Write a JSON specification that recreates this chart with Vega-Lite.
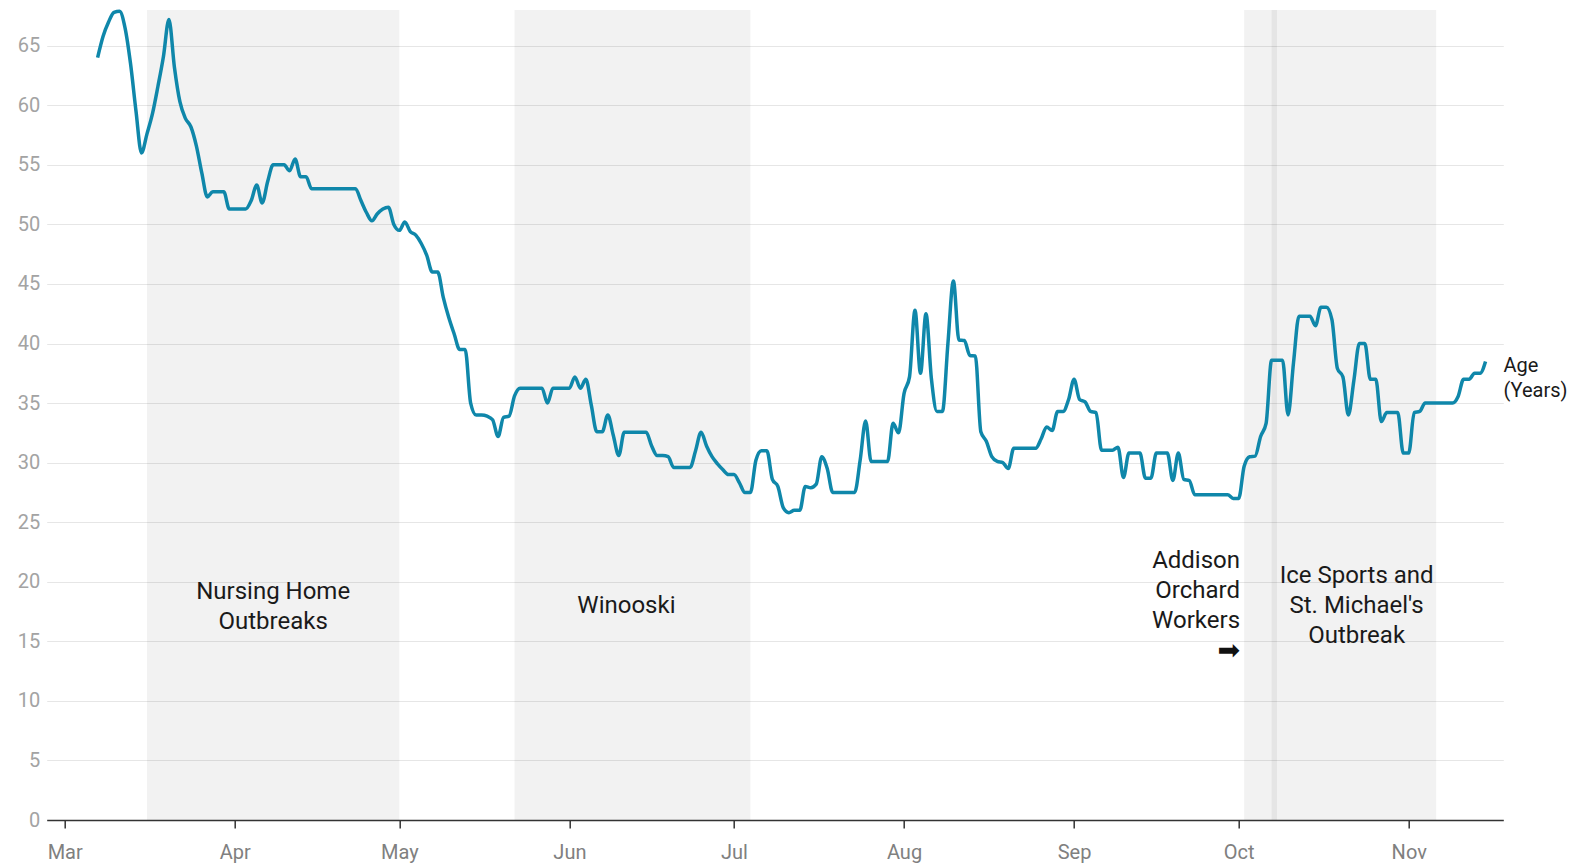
{
  "$schema": "https://vega.github.io/schema/vega-lite/v6.json",
  "width": 1456.6,
  "height": 810,
  "autosize": {"type": "none"},
  "padding": {"left": 46.7, "top": 10, "right": 80.7, "bottom": 44},
  "background": "white",
  "config": {"view": {"stroke": null}, "font": "Roboto"},
  "datasets": {
    "bands": [
      {"start": "2020-03-16", "end": "2020-05-01", "name": "Nursing Home Outbreaks"},
      {"start": "2020-05-22", "end": "2020-07-04", "name": "Winooski"},
      {"start": "2020-10-02", "end": "2020-11-06", "name": "Ice Sports and St. Michael's Outbreak"},
      {"start": "2020-10-07", "end": "2020-10-08", "name": "Addison Orchard Workers"}
    ],
    "age": [
      {"d":"2020-03-07","v":64.0},{"d":"2020-03-08","v":65.8},{"d":"2020-03-09","v":67.0},{"d":"2020-03-10","v":67.8},{"d":"2020-03-11","v":67.9},{"d":"2020-03-12","v":66.5},{"d":"2020-03-13","v":63.5},{"d":"2020-03-14","v":59.5},{"d":"2020-03-15","v":56.0},{"d":"2020-03-16","v":57.6},{"d":"2020-03-17","v":59.3},{"d":"2020-03-18","v":61.6},{"d":"2020-03-19","v":64.1},{"d":"2020-03-20","v":67.2},{"d":"2020-03-21","v":63.2},{"d":"2020-03-22","v":60.3},{"d":"2020-03-23","v":58.9},{"d":"2020-03-24","v":58.2},{"d":"2020-03-25","v":56.6},{"d":"2020-03-26","v":54.3},{"d":"2020-03-27","v":52.3},{"d":"2020-03-28","v":52.75},{"d":"2020-03-29","v":52.75},{"d":"2020-03-30","v":52.75},{"d":"2020-03-31","v":51.3},
      {"d":"2020-04-01","v":51.3},{"d":"2020-04-02","v":51.3},{"d":"2020-04-03","v":51.3},{"d":"2020-04-04","v":52.0},{"d":"2020-04-05","v":53.3},{"d":"2020-04-06","v":51.8},{"d":"2020-04-07","v":53.6},{"d":"2020-04-08","v":55.0},{"d":"2020-04-09","v":55.0},{"d":"2020-04-10","v":55.0},{"d":"2020-04-11","v":54.5},{"d":"2020-04-12","v":55.5},{"d":"2020-04-13","v":54.0},{"d":"2020-04-14","v":54.0},{"d":"2020-04-15","v":53.0},{"d":"2020-04-16","v":53.0},{"d":"2020-04-17","v":53.0},{"d":"2020-04-18","v":53.0},{"d":"2020-04-19","v":53.0},{"d":"2020-04-20","v":53.0},{"d":"2020-04-21","v":53.0},{"d":"2020-04-22","v":53.0},{"d":"2020-04-23","v":53.0},{"d":"2020-04-24","v":52.0},{"d":"2020-04-25","v":51.0},{"d":"2020-04-26","v":50.3},{"d":"2020-04-27","v":50.9},{"d":"2020-04-28","v":51.3},{"d":"2020-04-29","v":51.45},{"d":"2020-04-30","v":50.0},
      {"d":"2020-05-01","v":49.5},{"d":"2020-05-02","v":50.2},{"d":"2020-05-03","v":49.4},{"d":"2020-05-04","v":49.1},{"d":"2020-05-05","v":48.4},{"d":"2020-05-06","v":47.4},{"d":"2020-05-07","v":46.0},{"d":"2020-05-08","v":46.0},{"d":"2020-05-09","v":43.9},{"d":"2020-05-10","v":42.2},{"d":"2020-05-11","v":40.8},{"d":"2020-05-12","v":39.5},{"d":"2020-05-13","v":39.5},{"d":"2020-05-14","v":35.0},{"d":"2020-05-15","v":34.0},{"d":"2020-05-16","v":34.0},{"d":"2020-05-17","v":33.9},{"d":"2020-05-18","v":33.6},{"d":"2020-05-19","v":32.2},{"d":"2020-05-20","v":33.8},{"d":"2020-05-21","v":33.9},{"d":"2020-05-22","v":35.6},{"d":"2020-05-23","v":36.25},{"d":"2020-05-24","v":36.25},{"d":"2020-05-25","v":36.25},{"d":"2020-05-26","v":36.25},{"d":"2020-05-27","v":36.25},{"d":"2020-05-28","v":35.0},{"d":"2020-05-29","v":36.25},{"d":"2020-05-30","v":36.25},{"d":"2020-05-31","v":36.25},
      {"d":"2020-06-01","v":36.25},{"d":"2020-06-02","v":37.2},{"d":"2020-06-03","v":36.25},{"d":"2020-06-04","v":37.0},{"d":"2020-06-05","v":34.8},{"d":"2020-06-06","v":32.6},{"d":"2020-06-07","v":32.6},{"d":"2020-06-08","v":34.0},{"d":"2020-06-09","v":32.3},{"d":"2020-06-10","v":30.6},{"d":"2020-06-11","v":32.55},{"d":"2020-06-12","v":32.55},{"d":"2020-06-13","v":32.55},{"d":"2020-06-14","v":32.55},{"d":"2020-06-15","v":32.55},{"d":"2020-06-16","v":31.4},{"d":"2020-06-17","v":30.6},{"d":"2020-06-18","v":30.6},{"d":"2020-06-19","v":30.5},{"d":"2020-06-20","v":29.6},{"d":"2020-06-21","v":29.6},{"d":"2020-06-22","v":29.6},{"d":"2020-06-23","v":29.6},{"d":"2020-06-24","v":31.0},{"d":"2020-06-25","v":32.55},{"d":"2020-06-26","v":31.4},{"d":"2020-06-27","v":30.5},{"d":"2020-06-28","v":29.9},{"d":"2020-06-29","v":29.4},{"d":"2020-06-30","v":29.0},
      {"d":"2020-07-01","v":29.0},{"d":"2020-07-02","v":28.3},{"d":"2020-07-03","v":27.5},{"d":"2020-07-04","v":27.5},{"d":"2020-07-05","v":30.2},{"d":"2020-07-06","v":31.0},{"d":"2020-07-07","v":31.0},{"d":"2020-07-08","v":28.6},{"d":"2020-07-09","v":28.0},{"d":"2020-07-10","v":26.2},{"d":"2020-07-11","v":25.8},{"d":"2020-07-12","v":26.0},{"d":"2020-07-13","v":26.0},{"d":"2020-07-14","v":28.0},{"d":"2020-07-15","v":27.9},{"d":"2020-07-16","v":28.2},{"d":"2020-07-17","v":30.5},{"d":"2020-07-18","v":29.5},{"d":"2020-07-19","v":27.5},{"d":"2020-07-20","v":27.5},{"d":"2020-07-21","v":27.5},{"d":"2020-07-22","v":27.5},{"d":"2020-07-23","v":27.5},{"d":"2020-07-24","v":30.2},{"d":"2020-07-25","v":33.5},{"d":"2020-07-26","v":30.1},{"d":"2020-07-27","v":30.1},{"d":"2020-07-28","v":30.1},{"d":"2020-07-29","v":30.1},{"d":"2020-07-30","v":33.3},{"d":"2020-07-31","v":32.5},
      {"d":"2020-08-01","v":35.8},{"d":"2020-08-02","v":37.2},{"d":"2020-08-03","v":42.8},{"d":"2020-08-04","v":37.5},{"d":"2020-08-05","v":42.5},{"d":"2020-08-06","v":37.0},{"d":"2020-08-07","v":34.3},{"d":"2020-08-08","v":34.3},{"d":"2020-08-09","v":40.0},{"d":"2020-08-10","v":45.25},{"d":"2020-08-11","v":40.3},{"d":"2020-08-12","v":40.25},{"d":"2020-08-13","v":39.0},{"d":"2020-08-14","v":38.96},{"d":"2020-08-15","v":32.6},{"d":"2020-08-16","v":31.8},{"d":"2020-08-17","v":30.5},{"d":"2020-08-18","v":30.1},{"d":"2020-08-19","v":30.0},{"d":"2020-08-20","v":29.5},{"d":"2020-08-21","v":31.2},{"d":"2020-08-22","v":31.2},{"d":"2020-08-23","v":31.2},{"d":"2020-08-24","v":31.2},{"d":"2020-08-25","v":31.2},{"d":"2020-08-26","v":32.0},{"d":"2020-08-27","v":33.0},{"d":"2020-08-28","v":32.7},{"d":"2020-08-29","v":34.3},{"d":"2020-08-30","v":34.3},{"d":"2020-08-31","v":35.3},
      {"d":"2020-09-01","v":37.0},{"d":"2020-09-02","v":35.3},{"d":"2020-09-03","v":35.1},{"d":"2020-09-04","v":34.3},{"d":"2020-09-05","v":34.2},{"d":"2020-09-06","v":31.05},{"d":"2020-09-07","v":31.05},{"d":"2020-09-08","v":31.05},{"d":"2020-09-09","v":31.3},{"d":"2020-09-10","v":28.75},{"d":"2020-09-11","v":30.8},{"d":"2020-09-12","v":30.8},{"d":"2020-09-13","v":30.8},{"d":"2020-09-14","v":28.7},{"d":"2020-09-15","v":28.7},{"d":"2020-09-16","v":30.8},{"d":"2020-09-17","v":30.8},{"d":"2020-09-18","v":30.8},{"d":"2020-09-19","v":28.5},{"d":"2020-09-20","v":30.8},{"d":"2020-09-21","v":28.6},{"d":"2020-09-22","v":28.5},{"d":"2020-09-23","v":27.3},{"d":"2020-09-24","v":27.3},{"d":"2020-09-25","v":27.3},{"d":"2020-09-26","v":27.3},{"d":"2020-09-27","v":27.3},{"d":"2020-09-28","v":27.3},{"d":"2020-09-29","v":27.3},{"d":"2020-09-30","v":27.0},
      {"d":"2020-10-01","v":27.0},{"d":"2020-10-02","v":29.7},{"d":"2020-10-03","v":30.5},{"d":"2020-10-04","v":30.55},{"d":"2020-10-05","v":32.2},{"d":"2020-10-06","v":33.3},{"d":"2020-10-07","v":38.6},{"d":"2020-10-08","v":38.6},{"d":"2020-10-09","v":38.6},{"d":"2020-10-10","v":34.0},{"d":"2020-10-11","v":38.4},{"d":"2020-10-12","v":42.3},{"d":"2020-10-13","v":42.3},{"d":"2020-10-14","v":42.3},{"d":"2020-10-15","v":41.5},{"d":"2020-10-16","v":43.05},{"d":"2020-10-17","v":43.05},{"d":"2020-10-18","v":42.0},{"d":"2020-10-19","v":37.9},{"d":"2020-10-20","v":37.2},{"d":"2020-10-21","v":34.0},{"d":"2020-10-22","v":36.9},{"d":"2020-10-23","v":40.0},{"d":"2020-10-24","v":40.0},{"d":"2020-10-25","v":37.0},{"d":"2020-10-26","v":37.0},{"d":"2020-10-27","v":33.45},{"d":"2020-10-28","v":34.2},{"d":"2020-10-29","v":34.2},{"d":"2020-10-30","v":34.2},{"d":"2020-10-31","v":30.8},
      {"d":"2020-11-01","v":30.8},{"d":"2020-11-02","v":34.2},{"d":"2020-11-03","v":34.3},{"d":"2020-11-04","v":35.0},{"d":"2020-11-05","v":35.0},{"d":"2020-11-06","v":35.0},{"d":"2020-11-07","v":35.0},{"d":"2020-11-08","v":35.0},{"d":"2020-11-09","v":35.0},{"d":"2020-11-10","v":35.55},{"d":"2020-11-11","v":37.0},{"d":"2020-11-12","v":37.0},{"d":"2020-11-13","v":37.5},{"d":"2020-11-14","v":37.5},{"d":"2020-11-15","v":38.5}
    ],
    "notesCenter": [
      {"d": "2020-04-08T00:00:00Z", "v": 19.18, "lines": ["Nursing Home", "Outbreaks"]},
      {"d": "2020-06-11T09:36:00Z", "v": 17.96, "lines": ["Winooski"]},
      {"d": "2020-10-22T12:00:00Z", "v": 20.45, "lines": ["Ice Sports and", "St. Michael's", "Outbreak"]}
    ],
    "notesRight": [
      {"d": "2020-10-01T06:00:00Z", "v": 21.72, "lines": ["Addison", "Orchard", "Workers"]}
    ],
    "arrow": [
      {"d": "2020-10-01T06:00:00Z", "v": 14.2, "lines": "➡"}
    ],
    "seriesLabel": [
      {"d": "2020-11-15", "v": 38.5, "lines": ["Age", "(Years)"]}
    ]
  },
  "layer": [
    {
      "data": {"name": "bands"},
      "mark": {"type": "rect", "color": "#000000", "opacity": 0.05},
      "encoding": {
        "x": {"field": "start", "type": "temporal", "scale": {"type": "utc", "domain": [1582737408000, 1605678336000]},
          "axis": {"title": null, "labelExpr": "utcFormat(datum.value, '%b')", "tickCount": {"interval": "month", "step": 1}, "grid": false, "domain": true, "domainColor": "#333333", "domainWidth": 1.5, "ticks": true, "tickColor": "#333333", "tickSize": 8, "tickWidth": 1.5, "labelFontSize": 20, "labelColor": "#808080", "labelPadding": 14, "labelFont": "Roboto", "labelFlush": false, "labelOverlap": false}},
        "x2": {"field": "end"}
      }
    },
    {
      "data": {"name": "age"},
      "mark": {"type": "line", "color": "#0f87aa", "strokeWidth": 3.5, "interpolate": "monotone"},
      "encoding": {
        "x": {"field": "d", "type": "temporal", "scale": {"type": "utc", "domain": [1582737408000, 1605678336000]},
          "axis": {"title": null, "labelExpr": "utcFormat(datum.value, '%b')", "tickCount": {"interval": "month", "step": 1}, "grid": false, "domain": true, "domainColor": "#333333", "domainWidth": 1.5, "ticks": true, "tickColor": "#333333", "tickSize": 8, "tickWidth": 1.5, "labelFontSize": 20, "labelColor": "#808080", "labelPadding": 14, "labelFont": "Roboto", "labelFlush": false, "labelOverlap": false}},
        "y": {"field": "v", "type": "quantitative", "scale": {"domain": [0, 68], "nice": false, "zero": true},
          "axis": {"title": null, "values": [0, 5, 10, 15, 20, 25, 30, 35, 40, 45, 50, 55, 60, 65], "grid": true, "gridColor": "#e6e6e6", "gridWidth": 1.2, "domain": false, "ticks": false, "tickSize": 0, "labelFontSize": 20, "labelColor": "#a3a3a3", "labelPadding": 7, "labelFont": "Roboto"}}
      }
    },
    {
      "data": {"name": "notesCenter"},
      "mark": {"type": "text", "align": "center", "baseline": "middle", "fontSize": 24, "lineHeight": 30, "font": "Roboto", "color": "#1a1a1a"},
      "encoding": {
        "x": {"field": "d", "type": "temporal", "scale": {"type": "utc", "domain": [1582737408000, 1605678336000]}},
        "y": {"field": "v", "type": "quantitative", "scale": {"domain": [0, 68], "nice": false, "zero": true}},
        "text": {"field": "lines"}
      }
    },
    {
      "data": {"name": "notesRight"},
      "mark": {"type": "text", "align": "right", "baseline": "middle", "fontSize": 24, "lineHeight": 30, "font": "Roboto", "color": "#1a1a1a"},
      "encoding": {
        "x": {"field": "d", "type": "temporal", "scale": {"type": "utc", "domain": [1582737408000, 1605678336000]}},
        "y": {"field": "v", "type": "quantitative", "scale": {"domain": [0, 68], "nice": false, "zero": true}},
        "text": {"field": "lines"}
      }
    },
    {
      "data": {"name": "arrow"},
      "mark": {"type": "text", "align": "right", "baseline": "middle", "fontSize": 27, "font": "DejaVu Sans", "color": "#111111"},
      "encoding": {
        "x": {"field": "d", "type": "temporal", "scale": {"type": "utc", "domain": [1582737408000, 1605678336000]}},
        "y": {"field": "v", "type": "quantitative", "scale": {"domain": [0, 68], "nice": false, "zero": true}},
        "text": {"field": "lines"}
      }
    },
    {
      "data": {"name": "seriesLabel"},
      "mark": {"type": "text", "align": "left", "baseline": "top", "fontSize": 20, "lineHeight": 25, "font": "Roboto", "color": "#1a1a1a", "dx": 18, "dy": -5.5},
      "encoding": {
        "x": {"field": "d", "type": "temporal", "scale": {"type": "utc", "domain": [1582737408000, 1605678336000]}},
        "y": {"field": "v", "type": "quantitative", "scale": {"domain": [0, 68], "nice": false, "zero": true}},
        "text": {"field": "lines"}
      }
    }
  ]
}
